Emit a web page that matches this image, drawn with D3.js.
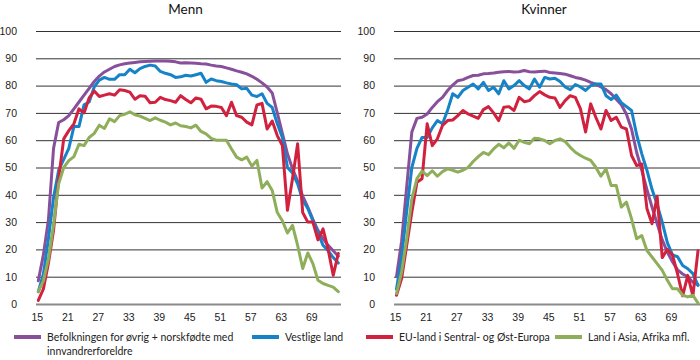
<!DOCTYPE html>
<html lang="no">
  <head>
    <meta charset="UTF-8" />
    <title>Sysselsatte etter alder</title>
    <style>
      body {
        margin: 0;
        background: #fff;
      }
      svg {
        display: block;
        font-family: Lato, "DejaVu Sans", sans-serif;
      }
      .grid line {
        stroke: #333;
        stroke-width: 1;
      }
      .grid path,
      .axis--x path {
        display: none;
      }
      .grid text,
      .axis--x text {
        fill: #222;
        font-size: 10.5px;
      }
      .line {
        fill: none;
        stroke-width: 3;
        stroke-linejoin: round;
        stroke-linecap: round;
      }
      .title {
        font-size: 13.5px;
        fill: #111;
      }
      .legend text {
        font-size: 10.5px;
        fill: #222;
      }
    </style>
  </head>
  <body>
    <svg width="700" height="360"></svg>
    <script src="https://d3js.org/d3.v7.min.js"></script>
    <script>
      // alder 15-74
      const ages = d3.range(15, 75);
      const xTicks = [15, 21, 27, 33, 39, 45, 51, 57, 63, 69];
      const yTicks = [0, 10, 20, 30, 40, 50, 60, 70, 80, 90, 100];

      const seriesNames = [
        "Befolkningen for øvrig + norskfødte med innvandrerforeldre",
        "Vestlige land",
        "EU-land i Sentral- og Øst-Europa",
        "Land i Asia, Afrika mfl."
      ];
      const colors = ["#88509b", "#1683c9", "#d2213f", "#8fae5a"];

      // Menn
      const mennBefolkning = [
        8.5, 18, 31, 57, 66.5, 67.5, 69, 71.5, 74, 76.5,
        79, 81.5, 83.5, 85, 86, 87, 87.6, 88, 88.3, 88.5,
        88.7, 88.8, 88.9, 89, 89, 89, 88.9, 88.7, 88.3, 88.4,
        88.3, 88.2, 88, 87.9, 87.5, 87.2, 87, 86.5, 86, 85.4,
        84.9, 84.3, 83.4, 82.3, 81, 79.5, 77.3, 70, 62.5, 55,
        49.5, 45, 39.5, 35.5, 31, 27, 24, 21.5, 19.5, 17.5
      ];
      const mennVestlige = [
        4.5, 11, 24, 39, 49, 53, 57, 65, 65, 73,
        74, 79.5, 82, 83, 82.3, 82.3, 84, 84, 86, 84.7,
        86.2, 87, 87.5, 87.2, 85.2, 84.5, 84, 83, 83.2, 83.8,
        83.5, 84, 84.5, 81.2, 82.4, 81.8, 81.5, 81, 80.6, 80.3,
        78.8, 79, 76.5, 76, 77, 73.5, 72, 66, 61, 50,
        48, 44, 38, 35, 30.5, 26, 21.5, 19.5, 17, 15
      ];
      const mennEU = [
        1.3, 5.5, 15, 27, 46, 60.5, 63.5, 66, 71.5, 70,
        75.5, 78, 76, 76.5, 77, 76.5, 78.5, 78.2, 77.6, 75,
        76.3, 76.1, 73.7, 73.9, 75.7, 74.9, 74.5, 73.9, 76.3, 74.9,
        73.7, 75.5, 75, 71.5, 72.5, 72.4, 72, 69, 73.9, 69,
        68.4, 66.6, 65.6, 72.9, 73.5, 64.1, 67, 61.7, 58, 34.3,
        46, 58.7, 33.5, 30, 30, 23.5, 27.5, 20, 10.5, 18.5
      ];
      const mennAsia = [
        4.5, 8.5, 16.5, 29, 44, 50, 52.5, 54, 58.5, 58,
        61, 62.5, 65.5, 64.3, 67.8, 66.8, 69, 69.5, 70.4, 69.3,
        68.8, 68, 67.2, 68.2, 67.3, 66.6, 65.6, 66.3, 65.3, 65,
        64.5, 65.5, 63.2, 62.3, 60.7, 60, 60, 60, 56.8, 53.8,
        52.8, 53.8, 50.5, 52.6, 42.5, 44.8, 41.6, 33.5, 30.5, 26,
        28.8, 21.5, 13, 18.7, 14.8, 8.7, 7.5, 6.8, 6.2, 4.5
      ];

      // Kvinner
      const kvinnerBefolkning = [
        10, 23, 43, 63, 68, 68.4, 69.6, 72, 74.1, 75.7,
        78.2, 80.2, 81.8, 82.2, 83, 83.7, 83.8, 84.3, 84.4, 84.6,
        84.9, 85.1, 85.2, 85, 85.1, 85.5, 85.1, 85, 85.2, 85.3,
        84.8, 84.6, 84.4, 84.2, 83.6, 83, 82.6, 82, 81.2, 80.5,
        79.5, 78.5, 77, 75, 73, 69.5, 64, 55.5, 49, 42,
        35.5, 29.5, 23.5, 19, 15.5, 12.5, 11, 10, 8, 7
      ];
      const kvinnerVestlige = [
        5.5, 17, 34, 50, 57, 61, 61, 64.5, 67.2, 66,
        71, 77, 75.7, 78.2, 79.4, 80.6, 78.8, 81.2, 78.2, 79.4,
        77, 81.8, 78.8, 80, 81.8, 80, 78.8, 82.4, 79.4, 83,
        82.4, 82.7, 81.5, 79.5, 78.5, 80.4, 79.5, 78.2, 80, 80.6,
        80.6, 76.3, 74.9, 76.5, 73.7, 72.3, 70.9, 62, 55, 49,
        42, 36.5, 30, 22.5, 18, 17.3, 14.1, 12.9, 11.1, 6.8
      ];
      const kvinnerEU = [
        3.2, 9.3, 21.5, 33.7, 44.6, 45.9, 66, 58, 60.5, 65.4,
        67.2, 67.4, 69, 70.9, 69.6, 68.8, 68, 71.2, 72.3, 70,
        67.2, 72.1, 72.3, 70.9, 75.7, 74.1, 74.5, 76.3, 77.8, 76.6,
        75.7, 75.5, 72, 74.5, 76.3, 75.7, 71.5, 63, 73.3, 68.4,
        64.1, 70.9, 67.2, 68.4, 64.8, 64.1, 54.4, 50.7, 51.3, 35,
        29.4, 39.5, 17, 20, 18, 11, 3, 10.5, 3, 19.5
      ];
      const kvinnerAsia = [
        3.8, 11.7, 24, 38.5, 45.9, 48.7, 47, 48.8, 46.8, 48.5,
        49.5, 49, 48.3, 49, 50, 52.2, 54, 55.5, 54.7, 56.8,
        58.5, 57.2, 59, 57, 60, 59.2, 58.7, 60.7, 60.5, 59.9,
        58.7, 59.9, 60.5, 59.5, 57.4, 55.6, 54.4, 53.4, 52.6, 50.1,
        46.8, 49.5, 43.4, 43.4, 35.5, 37.3, 31.2, 23.9, 25.1, 19.6,
        17.2, 14.8, 12.3, 8.7, 5.6, 5.6, 3.2, 2.6, 3.2, 0.3
      ];

      const panels = [
        {
          title: "Menn",
          left: 38.3, right: 338.3, gridLeft: 36, gridRight: 341,
          series: [mennBefolkning, mennVestlige, mennEU, mennAsia]
        },
        {
          title: "Kvinner",
          left: 396.5, right: 698, gridLeft: 394, gridRight: 700,
          series: [kvinnerBefolkning, kvinnerVestlige, kvinnerEU, kvinnerAsia]
        }
      ];

      const svg = d3.select("svg");
      const y = d3.scaleLinear().domain([0, 100]).range([304, 31]);

      panels.forEach((p) => {
        const x = d3.scaleLinear().domain([15, 74]).range([p.left, p.right]);
        const g = svg.append("g");

        // rutenett og y-akse
        const grid = g.append("g")
          .attr("class", "grid")
          .attr("transform", "translate(" + p.gridLeft + ",0)")
          .call(d3.axisLeft(y).tickValues(yTicks).tickSize(-(p.gridRight - p.gridLeft)).tickPadding(19));
        grid.selectAll(".tick")
          .filter((d) => d === 0)
          .select("line")
          .style("stroke", "#8a8a8a")
          .style("stroke-width", 2);

        // x-akse
        g.append("g")
          .attr("class", "axis axis--x")
          .attr("transform", "translate(0," + y(0) + ")")
          .call(d3.axisBottom(x).tickValues(xTicks).tickSize(0).tickPadding(10))
          .selectAll("text")
          .attr("dx", -1.5);

        // linjer
        const line = d3.line()
          .x((d, i) => x(ages[i]))
          .y((d) => y(d));
        p.series.forEach((values, k) => {
          g.append("path")
            .datum(values)
            .attr("class", "line")
            .attr("stroke", colors[k])
            .attr("d", line);
        });

        g.append("text")
          .attr("class", "title")
          .attr("x", (p.gridLeft + p.gridRight) / 2 - 3)
          .attr("y", 14)
          .attr("text-anchor", "middle")
          .text(p.title);
      });

      // tegnforklaring
      const legendPos = [14, 252, 366, 555];
      const legend = svg.append("g").attr("class", "legend");
      seriesNames.forEach((name, k) => {
        const item = legend.append("g").attr("transform", "translate(" + legendPos[k] + ",337)");
        item.append("line")
          .attr("x1", 0).attr("x2", 27)
          .attr("y1", 0).attr("y2", 0)
          .attr("stroke", colors[k])
          .attr("stroke-width", 4);
        const t = item.append("text").attr("x", 33).attr("y", 4);
        if (k === 0) {
          t.append("tspan").attr("x", 33).text("Befolkningen for øvrig + norskfødte med");
          t.append("tspan").attr("x", 33).attr("dy", 14).text("innvandrerforeldre");
        } else {
          t.text(name);
        }
      });
    </script>
  </body>
</html>
